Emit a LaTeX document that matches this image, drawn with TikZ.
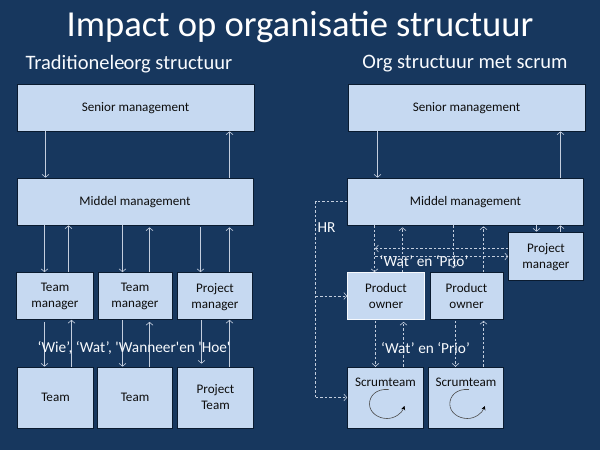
\documentclass[tikz,border=0pt]{standalone}
\usepackage{fontspec}
\setmainfont{Carlito}
\usepackage{tikz}
\usetikzlibrary{arrows.meta}
\definecolor{slidebg}{HTML}{17375E}
\definecolor{boxfill}{HTML}{C6D9F1}
\definecolor{boxline}{HTML}{0A1B30}
\definecolor{linkcol}{HTML}{C4CEDE}
\tikzset{
  orgbox/.style={draw=boxline, fill=boxfill, line width=0.7pt, inner sep=0pt, align=center, text=black!95,
    text depth=0.5pt, font=\fontsize{13.1}{16}\selectfont},
  link/.style={draw=linkcol, line width=0.6pt, ->, >={Straight Barb[length=3pt,width=7pt]}},
  dlink/.style={link, dash pattern=on 2.5pt off 2pt},
  wlabel/.style={text=white!90!boxfill, font=\fontsize{15.3}{16}\selectfont, inner sep=0pt},
}
\begin{document}
\begin{tikzpicture}[x=1pt, y=-1pt]
\fill[slidebg] (0,0) rectangle (600,450);
\useasboundingbox (0,0) rectangle (600,450);
% titles
\node[text=white, font=\fontsize{36.6}{38}\selectfont, inner sep=0pt] (title) at (300,27) {Impact op organisatie structuur};
\node[text=white!90!boxfill, font=\fontsize{20.5}{22}\selectfont, inner sep=0pt] (lefthead) at (129,64) {Traditionele\kern-1pt org structuur};
\node[text=white!90!boxfill, font=\fontsize{20.5}{22}\selectfont, inner sep=0pt] (righthead) at (465,64) {Org structuur met scrum};
% traditional
\node[orgbox, minimum width=237pt, minimum height=47pt] (senL) at (135.5,107.5) {Senior management};
\node[orgbox, minimum width=236pt, minimum height=47pt] (midL) at (135,201.5) {Middel management};
\node[orgbox, minimum width=77pt, minimum height=47pt] (tm1) at (55,296) {Team\\manager};
\node[orgbox, minimum width=74pt, minimum height=47pt] (tm2) at (135,296) {Team\\manager};
\node[orgbox, minimum width=75pt, minimum height=47pt] (pm1) at (215,296) {Project\\manager};
\node[orgbox, minimum width=76pt, minimum height=61pt] (team1) at (55.5,397.5) {Team};
\node[orgbox, minimum width=75pt, minimum height=61pt] (team2) at (135,397.5) {Team};
\node[orgbox, minimum width=76pt, minimum height=61pt] (pteam) at (215.5,397.5) {Project\\Team};
\draw[link] (senL.south -| 45.5,0) -- (midL.north -| 45.5,0);
\draw[link] (midL.north -| 229.5,0) -- (senL.south -| 229.5,0);
\draw[link] (midL.south -| 44.5,0) -- (tm1.north -| 44.5,0);
\draw[link] (tm1.north -| 68.5,0) -- (midL.south -| 68.5,0);
\draw[link] (midL.south -| 122.5,0) -- (tm2.north -| 122.5,0);
\draw[link, shorten >=2pt] (tm2.north -| 149.5,0) -- (midL.south -| 149.5,0);
\draw[link, shorten <=2pt] (midL.south -| 200.5,0) -- (pm1.north -| 200.5,0);
\draw[link, shorten >=2pt] (pm1.north -| 229.5,0) -- (midL.south -| 229.5,0);
\draw[link, shorten <=2pt] (tm1.south -| 44.5,0) -- (team1.north -| 44.5,0);
\draw[link] (team1.north -| 71.5,0) -- (tm1.south -| 71.5,0);
\draw[link] (tm2.south -| 122.5,0) -- (team2.north -| 122.5,0);
\draw[link, shorten >=2pt] (team2.north -| 149.5,0) -- (tm2.south -| 149.5,0);
\draw[link, shorten >=3pt] (pm1.south -| 201.5,0) -- (pteam.north -| 201.5,0);
\draw[link] (pteam.north -| 229.5,0) -- (pm1.south -| 229.5,0);
\node[wlabel] (lblL) at (134,347.5) {‘Wie’, ‘Wat’, \textquotesingle Wanneer\textquotesingle en \textquotesingle Hoe\textquotesingle};
% scrum
\node[orgbox, minimum width=237pt, minimum height=47pt] (senR) at (466.5,107.5) {Senior management};
\node[orgbox, minimum width=236pt, minimum height=47pt] (midR) at (465.5,201.5) {Middel management};
\node[orgbox, minimum width=75pt, minimum height=48pt] (pm2) at (546,256) {Project\\manager};
\node[orgbox, draw=white!85!boxfill, minimum width=77pt, minimum height=47pt] (po1) at (386,296) {Product\\owner};
\node[orgbox, minimum width=73pt, minimum height=47pt] (po2) at (466.5,296) {Product\\owner};
\node[orgbox, minimum width=76pt, minimum height=61pt] (scrum1) at (385.5,397.5) {};
\node[orgbox, minimum width=75pt, minimum height=61pt] (scrum2) at (466,397.5) {};
\node[orgbox, draw=none, fill=none] (txt1) at (385.5,382) {Scrumteam};
\node[orgbox, draw=none, fill=none] (txt2) at (466,382) {Scrumteam};
\foreach \sx in {0,80.3} {
  \draw[black!70, line width=0.6pt, -{Stealth[length=4pt,width=4pt,black]}, shift={(\sx,0)}] (388.5,389.5)
    .. controls (376,388.5) and (369.5,396) .. (369.5,404)
    .. controls (369.5,412.5) and (378,418.5) .. (387,418.5)
    .. controls (395,418.5) and (402,413) .. (404.5,406);
}
\draw[link] (senR.south -| 377.5,0) -- (midR.north -| 377.5,0);
\draw[link] (midR.north -| 560.5,0) -- (senR.south -| 560.5,0);
\draw[link] (midR.south -| 536.5,0) -- (pm2.north -| 536.5,0);
\draw[link] (pm2.north -| 560.5,0) -- (midR.south -| 560.5,0);
\coordinate (hrtop) at (315.5,201.5);
\coordinate (hrbot) at (315.5,397.5);
\draw[dlink, -] (midR.west) -- (hrtop) -- (hrbot);
\draw[dlink] (hrbot) -- (scrum1.west);
\draw[dlink] (hrbot |- po1.west) -- (po1.west);
\draw[dlink] (midR.south -| 374.5,0) -- (po1.north -| 374.5,0);
\draw[dlink, shorten >=2pt] (po1.north -| 402.5,0) -- (midR.south -| 402.5,0);
\draw[dlink, shorten >=4pt] (midR.south -| 453.5,0) -- (po2.north -| 453.5,0);
\draw[dlink, shorten >=1pt] (po2.north -| 483.5,0) -- (midR.south -| 483.5,0);
\coordinate (wpL) at (375,248.5);
\coordinate (wpR) at (375,256.5);
\draw[dlink] (pm2.west |- wpL) -- (wpL);
\draw[dlink] (wpR) -- (pm2.west |- wpR);
\draw[dlink, shorten <=1pt] (po1.south -| 375.5,0) -- (scrum1.north -| 375.5,0);
\draw[dlink, shorten >=2pt] (scrum1.north -| 403.5,0) -- (po1.south -| 403.5,0);
\draw[dlink, shorten <=1pt] (po2.south -| 455.5,0) -- (scrum2.north -| 455.5,0);
\draw[dlink, shorten >=1pt] (scrum2.north -| 483.5,0) -- (po2.south -| 483.5,0);
\node[wlabel] (hr) at (326.5,227.5) {HR};
\node[wlabel] (lblR1) at (424,261) {‘Wat’ en ‘Prio’};
\node[wlabel] (lblR2) at (425.5,348.5) {‘Wat’ en ‘Prio’};
\end{tikzpicture}
\end{document}
